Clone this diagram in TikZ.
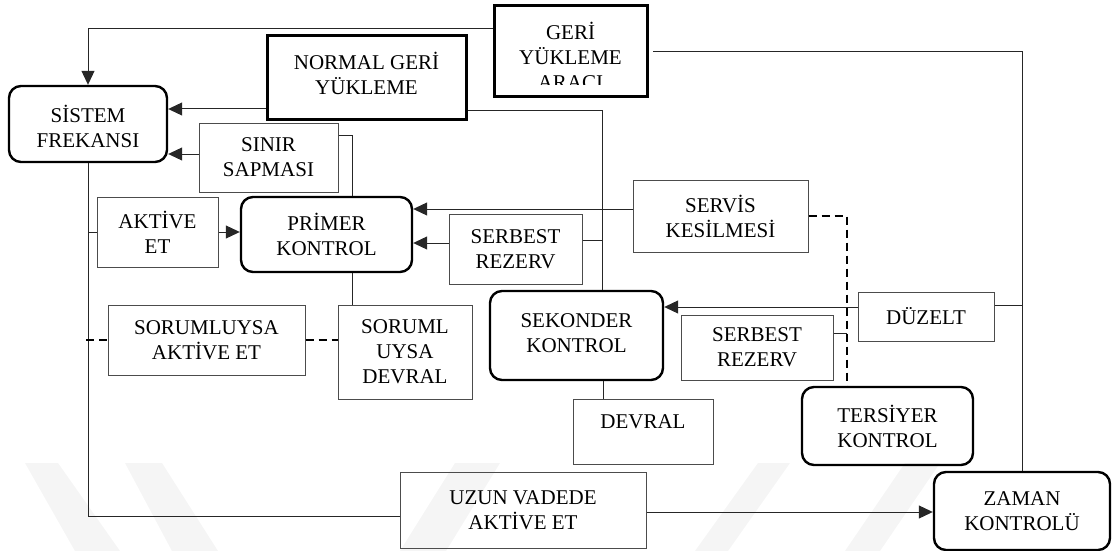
\documentclass[tikz,border=0pt]{standalone}
\usepackage{fontspec}
\setmainfont{Liberation Serif}
\usetikzlibrary{arrows.meta}

\begin{document}
\begin{tikzpicture}[x=1pt,y=-1pt,
  every node/.style={font=\fontsize{21}{25}\selectfont, align=center, inner sep=0pt},
  plainbox/.style={draw=black!70, line width=1pt},
  ctrlbox/.style={draw=black, line width=2.4pt, rounded corners=12pt},
  heavybox/.style={draw=black, line width=3pt},
  link/.style={draw=black!85, line width=1pt},
  arr/.style={link, -{Triangle[length=14pt,width=13pt]}},
  dashlink/.style={draw=black, line width=1.6pt, dash pattern=on 8pt off 5pt},
  band/.style={fill=black!4, draw=none},
]
\useasboundingbox (0,0) rectangle (1112,551);

% faint background stripes
\fill[band] (25,463) -- (58,463) -- (120,551) -- (75,551) -- cycle;
\fill[band] (125,463) -- (162,463) -- (218,551) -- (172,551) -- cycle;
\fill[band] (455,463) -- (500,463) -- (446,551) -- (400,551) -- cycle;
\fill[band] (758,463) -- (790,463) -- (728,551) -- (695,551) -- cycle;
\fill[band] (905,463) -- (940,463) -- (880,551) -- (845,551) -- cycle;

% boxes
\node[ctrlbox, minimum width=158pt, minimum height=76pt] (sistem) at (88,124) {};
\node (sistemtxt) at (88,126) {SİSTEM\\FREKANSI};
\node[heavybox, minimum width=199pt, minimum height=83pt] (normal) at (366.5,77.5) {};
\node (normaltxt) at (366.5,73) {NORMAL GERİ\\YÜKLEME};
\node[heavybox, minimum width=153pt, minimum height=91pt] (araci) at (570.5,51.5) {};
\begin{scope}
  \clip (494,6) rectangle (647,85);
  \node (aracitxt) at (570.5,56) {GERİ\\YÜKLEME\\ARACI};
\end{scope}
\node[plainbox, minimum width=139pt, minimum height=69pt] (sinir) at (268.5,157.5) {SINIR\\SAPMASI};
\node[plainbox, minimum width=121pt, minimum height=70pt] (aktive) at (157.5,232) {AKTİVE\\ET};
\node[ctrlbox, minimum width=171pt, minimum height=75pt] (primer) at (326.5,234.5) {PRİMER\\KONTROL};
\node[plainbox, minimum width=133pt, minimum height=70pt] (serbA) at (515.5,249) {SERBEST\\REZERV};
\node[plainbox, minimum width=175pt, minimum height=72pt] (servis) at (720.5,216) {SERVİS\\KESİLMESİ};
\node[plainbox, minimum width=197pt, minimum height=70pt] (soraktive) at (206.5,340) {SORUMLUYSA\\AKTİVE ET};
\node[plainbox, minimum width=134pt, minimum height=94pt] (sordevral) at (405,352) {SORUML\\UYSA\\DEVRAL};
\node[ctrlbox, minimum width=173pt, minimum height=89pt] (sekonder) at (576.5,335.5) {};
\node (sekondertxt) at (576.5,333) {SEKONDER\\KONTROL};
\node[plainbox, minimum width=152pt, minimum height=65pt] (serbB) at (757,347.5) {SERBEST\\REZERV};
\node[plainbox, minimum width=136pt, minimum height=49pt] (duzelt) at (926,316.5) {DÜZELT};
\node[plainbox, minimum width=140pt, minimum height=65pt] (devral) at (643,431.5) {};
\node (devraltxt) at (643,422) {DEVRAL};
\node[ctrlbox, minimum width=171pt, minimum height=78pt] (tersiyer) at (887.5,426) {TERSİYER\\KONTROL};
\node[plainbox, minimum width=246pt, minimum height=76pt] (uzun) at (523,510) {UZUN VADEDE\\AKTİVE ET};
\node[ctrlbox, minimum width=176pt, minimum height=78pt] (zaman) at (1022,511) {ZAMAN\\KONTROLÜ};

% free ends of connectors
\coordinate (rtrunk) at (653,52);
\coordinate (midtrunk) at (602,240);
\coordinate (dashjoin) at (847,333);
\coordinate (lefttrunk) at (88,516);
\coordinate (rightjoin) at (1022,305);
\coordinate (leftdash) at (86,340);

% connectors
\draw[arr] (araci.west |- 0,29) -| (sistem.north);
\draw[arr] (normal.west |- 0,109) -- (sistem.east |- 0,109);
\draw[arr] (sinir.west |- 0,154) -- (sistem.east |- 0,154);
\draw[link] (sinir.east |- 0,135) -| (primer.north -| 352,0);
\draw[link] (sistem.south) -- (lefttrunk) -- (uzun.west |- lefttrunk);
\draw[link] (aktive.west -| sistem.south) -- (aktive.west);
\draw[arr] (aktive.east) -- (primer.west |- aktive.east);
\draw[link] (primer.south -| 352,0) -- (sordevral.north -| 352,0);
\draw[dashlink] (leftdash) -- (soraktive.west);
\draw[dashlink] (soraktive.east) -- (sordevral.west |- soraktive.east);
\draw[link] (normal.east |- 0,111) -| (sekonder.north -| 602,0);
\draw[arr] (servis.west |- 0,209) -- (primer.east |- 0,209);
\draw[arr] (serbA.west |- 0,243) -- (primer.east |- 0,243);
\draw[link] (serbA.east |- midtrunk) -- (midtrunk);
\draw[link] (sekonder.south -| 603,0) -- (devral.north -| 603,0);
\draw[link] (rtrunk) -| (zaman.north);
\draw[link] (duzelt.east |- rightjoin) -- (rightjoin);
\draw[arr] (duzelt.west |- 0,307) -- (sekonder.east |- 0,307);
\draw[link] (serbB.east |- dashjoin) -- (dashjoin);
\draw[dashlink] (servis.east |- 0,216) -| (tersiyer.north -| 847,0);
\draw[arr] (uzun.east |- 0,512) -- (zaman.west |- 0,512);
\end{tikzpicture}
\end{document}
